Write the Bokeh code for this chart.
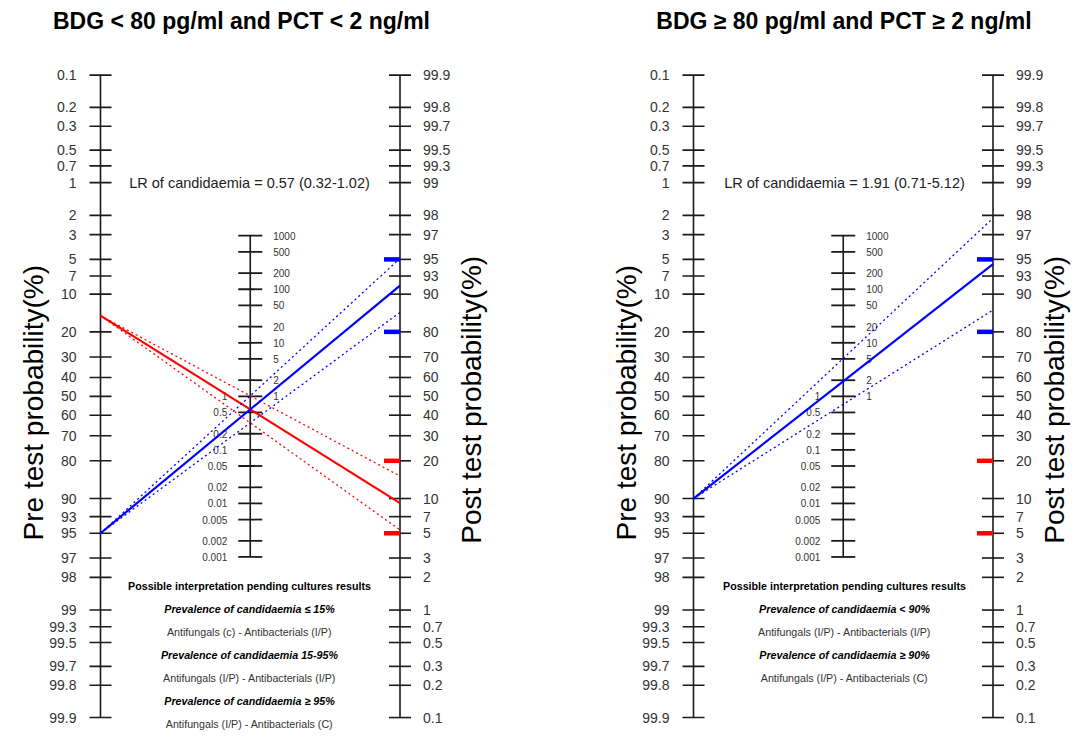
import math
from bokeh.plotting import figure
from bokeh.layouts import row
from bokeh.embed import file_html
from bokeh.resources import INLINE
from bokeh.core.properties import value

# ---------------- data ----------------
PROB_TICKS = [0.1, 0.2, 0.3, 0.5, 0.7, 1, 2, 3, 5, 7, 10, 20, 30, 40, 50, 60, 70,
              80, 90, 93, 95, 97, 98, 99, 99.3, 99.5, 99.7, 99.8, 99.9]
LR_TICKS_LOW = [0.001, 0.002, 0.005, 0.01, 0.02, 0.05, 0.1, 0.2, 0.5, 1]
LR_TICKS_HIGH = [1, 2, 5, 10, 20, 50, 100, 200, 500, 1000]

TITLES = ["BDG < 80 pg/ml and PCT < 2 ng/ml", "BDG \u2265 80 pg/ml and PCT \u2265 2 ng/ml"]
LR_POINT = [0.57, 1.91]
LR_LOW = [0.32, 0.71]
LR_HIGH = [1.02, 5.12]

PRETEST_P1 = [15, 95]
COLORS_P1 = ["#ff0000", "#0000ff"]
PRETEST_P2 = [90]
COLORS_P2 = ["#0000ff"]

MARK_BLUE = [95, 80]
MARK_RED = [20, 5]

NOTES_P1 = ["Possible interpretation pending cultures results",
            "Prevalence of candidaemia \u2264 15%",
            "Antifungals (c) - Antibacterials (I/P)",
            "Prevalence of candidaemia 15-95%",
            "Antifungals (I/P) - Antibacterials (I/P)",
            "Prevalence of candidaemia \u2265 95%",
            "Antifungals (I/P) - Antibacterials (C)"]
STYLES_P1 = ["bold", "bold italic", "normal", "bold italic", "normal", "bold italic", "normal"]
NOTES_P2 = ["Possible interpretation pending cultures results",
            "Prevalence of candidaemia < 90%",
            "Antifungals (I/P) - Antibacterials (I/P)",
            "Prevalence of candidaemia \u2265 90%",
            "Antifungals (I/P) - Antibacterials (C)"]
STYLES_P2 = ["bold", "bold italic", "normal", "bold italic", "normal"]

# ---------------- layout helpers ----------------
FONT = value("Liberation Sans")
XS = 149.75      # px per x unit (left axis x=0, LR axis x=1, right axis x=2)
YS = 47.41       # reference px per logit unit
Y0 = 403.5       # reference y of logit 0
KY = 0.981       # vertical squeeze so that the whole fits
W, H = 536, 733
AXC = "#1a1a1a"
LBL = "#333333"


def fy(py):
    return (Y0 - py) / YS


def logit(p):
    return math.log(p / (1 - p))


def fmt(v):
    return f"{v:g}"


def panel(title, title_px, lr, lo, hi, pretests, colors, notes, styles,
          origin_px, axis_px, note_px, post_title_px, note_step):
    def fx(px):
        return (px - axis_px) / XS

    x0 = fx(origin_px)
    x1 = fx(origin_px + W)
    p = figure(width=W, height=H, x_range=(x0, x1), y_range=(fy(H / KY), fy(0)),
               output_backend="svg", toolbar_location=None,
               x_axis_location=None, y_axis_location=None, min_border=0)
    p.grid.visible = False
    p.outline_line_color = None

    # axes lines
    ypre = [-logit(v / 100) for v in PROB_TICKS]
    ypost = [logit(v / 100) for v in PROB_TICKS]
    lr_all = sorted(set(LR_TICKS_LOW + LR_TICKS_HIGH))
    ylr = [math.log(v) / 2 for v in lr_all]
    p.segment(x0=[0, 1, 2], y0=[min(ypre), min(ylr), min(ypost)],
              x1=[0, 1, 2], y1=[max(ypre), max(ylr), max(ypost)],
              line_color=AXC, line_width=1.6)
    tp = 11 / XS
    tl = 12 / XS
    p.segment(x0=[-tp] * len(ypre), y0=ypre, x1=[tp] * len(ypre), y1=ypre,
              line_color=AXC, line_width=1.6)
    p.segment(x0=[2 - tp] * len(ypost), y0=ypost, x1=[2 + tp] * len(ypost), y1=ypost,
              line_color=AXC, line_width=1.6)
    p.segment(x0=[1 - tl] * len(ylr), y0=ylr, x1=[1 + tl] * len(ylr), y1=ylr,
              line_color=AXC, line_width=1.8)

    # tick labels
    labels = [fmt(v) for v in PROB_TICKS]
    p.text(x=[-24 / XS] * len(ypre), y=ypre, text=labels, text_font=FONT,
           text_font_size="14px", text_align="right", text_baseline="middle",
           text_color=LBL)
    p.text(x=[2 + 23 / XS] * len(ypost), y=ypost, text=labels, text_font=FONT,
           text_font_size="14px", text_align="left", text_baseline="middle",
           text_color=LBL)
    p.text(x=[1 + 23 / XS] * len(LR_TICKS_HIGH),
           y=[math.log(v) / 2 for v in LR_TICKS_HIGH],
           text=[fmt(v) for v in LR_TICKS_HIGH], text_font=FONT,
           text_font_size="10px", text_align="left", text_baseline="middle",
           text_color=LBL)
    p.text(x=[1 - 23 / XS] * len(LR_TICKS_LOW),
           y=[math.log(v) / 2 for v in LR_TICKS_LOW],
           text=[fmt(v) for v in LR_TICKS_LOW], text_font=FONT,
           text_font_size="10px", text_align="right", text_baseline="middle",
           text_color=LBL)

    # threshold markers on post-test axis
    mk = 16 / XS
    for vals, col in ((MARK_BLUE, "#0000ff"), (MARK_RED, "#ff0000")):
        yy = [logit(v / 100) for v in vals]
        p.segment(x0=[2 - mk] * len(yy), y0=yy, x1=[2] * len(yy), y1=yy,
                  line_color=col, line_width=4.5)

    # nomogram lines
    for pre, col in zip(pretests, colors):
        lo_odds = math.log((pre / 100) / (1 - pre / 100))
        ys = -lo_odds
        for L, dash, wdt in ((lo, "2 3", 1.3), (hi, "2 3", 1.3), (lr, "solid", 2.2)):
            p.line(x=[0, 2], y=[ys, lo_odds + math.log(L)], line_color=col,
                   line_width=wdt, line_dash=dash)

    # texts
    p.text(x=[fx(title_px)], y=[fy(21)], text=[title], text_font=FONT,
           text_font_size="23px", text_font_style="bold", text_align="center",
           text_baseline="middle", text_color="#000000")
    p.text(x=[fx(note_px)], y=[fy(186)],
           text=[f"LR of candidaemia = {lr:.2f} ({lo:.2f}-{hi:.2f})"],
           text_font=FONT, text_font_size="14.5px", text_align="center",
           text_baseline="middle", text_color="#222222")
    p.text(x=[fx(axis_px - 67)], y=[fy(410)],
           text=["Pre test probability(%)"], text_font=FONT, text_font_size="28px",
           angle=math.pi / 2, text_align="center", text_baseline="middle",
           text_color="#000000")
    p.text(x=[fx(post_title_px)], y=[fy(407)],
           text=["Post test probability(%)"], text_font=FONT, text_font_size="28px",
           angle=math.pi / 2, text_align="center", text_baseline="middle",
           text_color="#000000")
    ny = [597 + note_step * i for i in range(len(notes))]
    for t, st, yy in zip(notes, styles, ny):
        p.text(x=[fx(note_px)], y=[fy(yy)], text=[t], text_font=FONT,
               text_font_size="10.7px", text_font_style=st, text_align="center",
               text_baseline="middle",
               text_color="#000000" if st != "normal" else "#333333")
    return p


SHIFT = 10   # right panel moved a little left so that its outer title fits
p1 = panel(TITLES[0], 241, LR_POINT[0], LR_LOW[0], LR_HIGH[0],
           PRETEST_P1, COLORS_P1, NOTES_P1, STYLES_P1, 0, 100, 249, 471, 23.5)
p2 = panel(TITLES[1], 853.5 - SHIFT, LR_POINT[1], LR_LOW[1], LR_HIGH[1],
           PRETEST_P2, COLORS_P2, NOTES_P2, STYLES_P2, 536, 703 - SHIFT,
           854 - SHIFT, 1054, 23.5)

layout = row(p1, p2)
open("out.html", "w").write(file_html(layout, INLINE))
